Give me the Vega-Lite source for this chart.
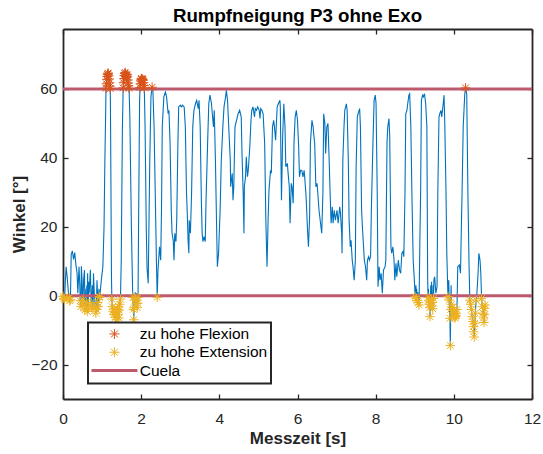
{
  "$schema": "https://vega.github.io/schema/vega-lite/v6.json",
  "width": 469,
  "height": 370,
  "autosize": {"type": "none"},
  "padding": {"left": 63, "top": 29, "right": 11, "bottom": 55},
  "title": {"text": "Rumpfneigung P3 ohne Exo", "font": "Liberation Sans", "fontSize": 18.7, "fontWeight": "bold", "color": "#000000", "anchor": "middle", "baseline": "alphabetic", "offset": -12.7},
  "config": {
    "view": {"stroke": null},
    "font": "Liberation Sans",
    "axis": {"domainColor": "#262626", "tickColor": "#262626", "labelColor": "#262626", "titleColor": "#262626", "domainWidth": 1.8, "tickWidth": 1.3, "grid": false, "labelFont": "Liberation Sans", "titleFont": "Liberation Sans", "labelFontSize": 15.5, "titleFontSize": 17, "titleFontWeight": "bold"},
    "legend": {"strokeWidth": 2}
  },
  "datasets": {
    "signal": [
      {"t":0.00,"v":-0.2},{"t":0.02,"v":-0.8},{"t":0.04,"v":-1.2},{"t":0.06,"v":4},{"t":0.08,"v":8.4},{"t":0.11,"v":5},{"t":0.14,"v":0.7},{"t":0.16,"v":-0.5},{"t":0.17,"v":-1.5},{"t":0.19,"v":-1.2},
      {"t":0.21,"v":12},{"t":0.24,"v":13},{"t":0.27,"v":10.5},{"t":0.30,"v":12.5},{"t":0.33,"v":9},{"t":0.36,"v":6.5},{"t":0.38,"v":0.7},{"t":0.41,"v":8.4},{"t":0.43,"v":3},{"t":0.44,"v":-1.5},
      {"t":0.46,"v":-3.2},{"t":0.47,"v":8.5},{"t":0.49,"v":4},{"t":0.50,"v":-2.5},{"t":0.51,"v":-1.3},{"t":0.53,"v":5},{"t":0.55,"v":7.4},{"t":0.56,"v":-4.2},{"t":0.57,"v":2},{"t":0.58,"v":-3},
      {"t":0.60,"v":-2},{"t":0.61,"v":3},{"t":0.62,"v":-4.6},{"t":0.63,"v":6.5},{"t":0.64,"v":-3.7},{"t":0.66,"v":4},{"t":0.67,"v":0.7},{"t":0.70,"v":7.5},{"t":0.72,"v":-2},{"t":0.73,"v":-3.2},
      {"t":0.75,"v":3},{"t":0.77,"v":-3.2},{"t":0.78,"v":6.5},{"t":0.80,"v":0.7},{"t":0.83,"v":-3.8},{"t":0.84,"v":-5.1},{"t":0.85,"v":-4},{"t":0.87,"v":4.5},{"t":0.89,"v":-2},{"t":0.90,"v":-3.2},
      {"t":0.92,"v":2},{"t":0.93,"v":-0.5},{"t":0.94,"v":-0.3},{"t":0.96,"v":2},{"t":0.98,"v":4.5},{"t":1.02,"v":8.4},{"t":1.05,"v":20},{"t":1.07,"v":38},{"t":1.09,"v":52},{"t":1.10,"v":60.2},
      {"t":1.12,"v":62.8},{"t":1.15,"v":64.6},{"t":1.17,"v":63.8},{"t":1.19,"v":61.8},{"t":1.21,"v":60.1},{"t":1.22,"v":45},{"t":1.24,"v":5.5},{"t":1.25,"v":-1},{"t":1.26,"v":-3.2},{"t":1.28,"v":-4.5},
      {"t":1.30,"v":-5.5},{"t":1.31,"v":-3.8},{"t":1.33,"v":-4.9},{"t":1.34,"v":-6.3},{"t":1.35,"v":-5},{"t":1.37,"v":-7},{"t":1.38,"v":-4.5},{"t":1.40,"v":-4},{"t":1.41,"v":-5.5},{"t":1.42,"v":-3.2},
      {"t":1.43,"v":-6.5},{"t":1.44,"v":-4.2},{"t":1.45,"v":-2.5},{"t":1.47,"v":-1},{"t":1.49,"v":10},{"t":1.52,"v":49},{"t":1.54,"v":60.3},{"t":1.56,"v":63},{"t":1.59,"v":64.8},{"t":1.61,"v":63.6},
      {"t":1.62,"v":63.2},{"t":1.64,"v":64.2},{"t":1.66,"v":62.6},{"t":1.68,"v":60.9},{"t":1.69,"v":60.2},{"t":1.71,"v":52},{"t":1.75,"v":20},{"t":1.78,"v":2},{"t":1.79,"v":-0.5},{"t":1.80,"v":-4},
      {"t":1.81,"v":-7},{"t":1.82,"v":-3.5},{"t":1.84,"v":-1.3},{"t":1.85,"v":1},{"t":1.86,"v":-0.8},{"t":1.88,"v":0.7},{"t":1.89,"v":-2.2},{"t":1.90,"v":-3.5},{"t":1.91,"v":-2.2},{"t":1.92,"v":-0.5},
      {"t":1.94,"v":29.7},{"t":1.96,"v":56.7},{"t":1.97,"v":60.4},{"t":1.99,"v":62.3},{"t":2.01,"v":63},{"t":2.03,"v":62.6},{"t":2.04,"v":62.8},{"t":2.06,"v":61.8},{"t":2.08,"v":60.3},{"t":2.10,"v":49},
      {"t":2.13,"v":20},{"t":2.15,"v":8},{"t":2.18,"v":3.6},{"t":2.22,"v":39},{"t":2.25,"v":57.7},{"t":2.28,"v":60.5},{"t":2.30,"v":59.6},{"t":2.33,"v":49},{"t":2.36,"v":29.7},{"t":2.39,"v":10.3},
      {"t":2.41,"v":-0.5},{"t":2.43,"v":7.4},{"t":2.47,"v":14.2},{"t":2.50,"v":10.3},{"t":2.52,"v":24.8},{"t":2.54,"v":49},{"t":2.58,"v":57.7},{"t":2.62,"v":59.1},{"t":2.65,"v":57.7},{"t":2.69,"v":52.8},
      {"t":2.71,"v":53.8},{"t":2.74,"v":44.2},{"t":2.77,"v":24.8},{"t":2.79,"v":18.1},{"t":2.82,"v":16.1},{"t":2.84,"v":10.3},{"t":2.86,"v":18.1},{"t":2.89,"v":15.7},{"t":2.91,"v":21.9},{"t":2.94,"v":44.2},
      {"t":2.96,"v":54.8},{"t":3.00,"v":55.3},{"t":3.03,"v":54.8},{"t":3.06,"v":55.3},{"t":3.10,"v":54.8},{"t":3.13,"v":49},{"t":3.16,"v":29.7},{"t":3.18,"v":23.9},{"t":3.20,"v":16.1},{"t":3.22,"v":12.3},
      {"t":3.23,"v":21.9},{"t":3.26,"v":18.1},{"t":3.29,"v":29.7},{"t":3.32,"v":49},{"t":3.35,"v":53.8},{"t":3.39,"v":55.7},{"t":3.42,"v":56.7},{"t":3.46,"v":54.3},{"t":3.48,"v":56.7},{"t":3.51,"v":49},
      {"t":3.54,"v":27.7},{"t":3.56,"v":18.1},{"t":3.58,"v":15.7},{"t":3.61,"v":17.1},{"t":3.64,"v":15.7},{"t":3.66,"v":27.7},{"t":3.70,"v":44.2},{"t":3.73,"v":55.7},{"t":3.76,"v":58.2},{"t":3.80,"v":55.7},
      {"t":3.82,"v":52.8},{"t":3.85,"v":49},{"t":3.87,"v":53.8},{"t":3.90,"v":39.3},{"t":3.93,"v":20},{"t":3.95,"v":8.4},{"t":3.98,"v":12.3},{"t":4.02,"v":24.8},{"t":4.05,"v":39.3},{"t":4.09,"v":49},
      {"t":4.12,"v":54.8},{"t":4.16,"v":57.7},{"t":4.18,"v":59.6},{"t":4.21,"v":56.7},{"t":4.24,"v":49},{"t":4.28,"v":39.3},{"t":4.29,"v":31.6},{"t":4.33,"v":35.5},{"t":4.35,"v":27.7},{"t":4.37,"v":31.6},
      {"t":4.40,"v":49},{"t":4.44,"v":50.9},{"t":4.48,"v":52.8},{"t":4.52,"v":53.8},{"t":4.56,"v":51.9},{"t":4.58,"v":41.3},{"t":4.61,"v":29.7},{"t":4.63,"v":18.1},{"t":4.64,"v":31.6},{"t":4.67,"v":34.5},
      {"t":4.69,"v":40.3},{"t":4.72,"v":34.5},{"t":4.74,"v":36.4},{"t":4.78,"v":43.2},{"t":4.81,"v":50.9},{"t":4.83,"v":53.8},{"t":4.86,"v":54.8},{"t":4.90,"v":51.9},{"t":4.92,"v":54.3},{"t":4.95,"v":53.8},
      {"t":4.98,"v":54.8},{"t":5.02,"v":53.8},{"t":5.04,"v":51.4},{"t":5.06,"v":54.3},{"t":5.09,"v":53.8},{"t":5.12,"v":52.8},{"t":5.16,"v":44.2},{"t":5.19,"v":21.9},{"t":5.22,"v":8.4},{"t":5.25,"v":22.9},
      {"t":5.27,"v":30.6},{"t":5.31,"v":36.4},{"t":5.33,"v":35.5},{"t":5.36,"v":49},{"t":5.39,"v":50.9},{"t":5.41,"v":49},{"t":5.44,"v":45.1},{"t":5.48,"v":54.8},{"t":5.51,"v":55.7},{"t":5.55,"v":56.7},
      {"t":5.56,"v":54.8},{"t":5.59,"v":27.7},{"t":5.62,"v":46.1},{"t":5.65,"v":55.7},{"t":5.68,"v":49},{"t":5.70,"v":37.4},{"t":5.74,"v":38.4},{"t":5.76,"v":35.5},{"t":5.79,"v":31.6},{"t":5.81,"v":21},
      {"t":5.84,"v":32.6},{"t":5.86,"v":31.6},{"t":5.89,"v":26.8},{"t":5.91,"v":44.2},{"t":5.94,"v":51.9},{"t":5.97,"v":53.8},{"t":6.00,"v":50.9},{"t":6.03,"v":43.2},{"t":6.05,"v":34.5},{"t":6.08,"v":36.4},
      {"t":6.11,"v":36.4},{"t":6.14,"v":34.5},{"t":6.17,"v":36.4},{"t":6.19,"v":33.5},{"t":6.22,"v":28.7},{"t":6.26,"v":18.1},{"t":6.28,"v":14.2},{"t":6.31,"v":22.9},{"t":6.33,"v":44.2},{"t":6.37,"v":50.9},
      {"t":6.40,"v":49},{"t":6.43,"v":45.1},{"t":6.44,"v":44.2},{"t":6.47,"v":31.6},{"t":6.50,"v":32.6},{"t":6.52,"v":29.7},{"t":6.55,"v":24.8},{"t":6.57,"v":22.9},{"t":6.60,"v":20},{"t":6.62,"v":18.1},
      {"t":6.65,"v":29.7},{"t":6.67,"v":52.8},{"t":6.70,"v":50},{"t":6.72,"v":41.3},{"t":6.75,"v":49},{"t":6.78,"v":50},{"t":6.81,"v":39.3},{"t":6.84,"v":27.7},{"t":6.86,"v":21},{"t":6.89,"v":25.8},
      {"t":6.91,"v":21},{"t":6.94,"v":24.8},{"t":6.97,"v":21.9},{"t":7.01,"v":24.8},{"t":7.04,"v":21},{"t":7.08,"v":25.8},{"t":7.10,"v":23.9},{"t":7.13,"v":18.1},{"t":7.14,"v":12.3},{"t":7.16,"v":39.3},
      {"t":7.19,"v":49},{"t":7.21,"v":53.8},{"t":7.25,"v":55.7},{"t":7.27,"v":53.8},{"t":7.30,"v":39.3},{"t":7.32,"v":21.9},{"t":7.35,"v":14.2},{"t":7.37,"v":16.1},{"t":7.40,"v":10.3},{"t":7.42,"v":8.4},
      {"t":7.45,"v":4.5},{"t":7.48,"v":10.3},{"t":7.50,"v":37.4},{"t":7.53,"v":51.9},{"t":7.55,"v":52.8},{"t":7.59,"v":54.3},{"t":7.61,"v":49},{"t":7.64,"v":24.8},{"t":7.66,"v":20},{"t":7.69,"v":14.2},
      {"t":7.71,"v":10.3},{"t":7.74,"v":8.4},{"t":7.77,"v":4.5},{"t":7.79,"v":10.3},{"t":7.82,"v":11.3},{"t":7.84,"v":10.3},{"t":7.87,"v":11.3},{"t":7.89,"v":24.8},{"t":7.93,"v":44.2},{"t":7.96,"v":56.7},
      {"t":7.99,"v":58.2},{"t":8.01,"v":55.7},{"t":8.04,"v":29.7},{"t":8.06,"v":2.6},{"t":8.09,"v":8.4},{"t":8.11,"v":4.5},{"t":8.14,"v":6.5},{"t":8.17,"v":0.7},{"t":8.20,"v":7.4},{"t":8.24,"v":8.4},
      {"t":8.26,"v":10.3},{"t":8.29,"v":44.2},{"t":8.31,"v":49},{"t":8.34,"v":51.4},{"t":8.36,"v":46.1},{"t":8.39,"v":14.2},{"t":8.41,"v":12.3},{"t":8.44,"v":14.2},{"t":8.47,"v":10.3},{"t":8.49,"v":4.5},
      {"t":8.52,"v":9.4},{"t":8.54,"v":5.5},{"t":8.58,"v":10.3},{"t":8.61,"v":7.4},{"t":8.64,"v":6.5},{"t":8.67,"v":12.3},{"t":8.70,"v":12.8},{"t":8.72,"v":11.3},{"t":8.75,"v":29.7},{"t":8.77,"v":52.8},
      {"t":8.80,"v":53.8},{"t":8.82,"v":55.7},{"t":8.85,"v":58.2},{"t":8.87,"v":58.6},{"t":8.90,"v":49},{"t":8.93,"v":27.7},{"t":8.96,"v":10.3},{"t":8.99,"v":4.5},{"t":9.01,"v":-0.3},{"t":9.03,"v":3},
      {"t":9.04,"v":-0.8},{"t":9.05,"v":2},{"t":9.06,"v":-1.4},{"t":9.08,"v":1},{"t":9.09,"v":-2},{"t":9.11,"v":-2.7},{"t":9.13,"v":15},{"t":9.15,"v":29.7},{"t":9.17,"v":56.7},{"t":9.20,"v":58.2},
      {"t":9.22,"v":57.7},{"t":9.25,"v":58.6},{"t":9.28,"v":55.7},{"t":9.31,"v":49},{"t":9.33,"v":5.5},{"t":9.34,"v":-0.5},{"t":9.35,"v":2},{"t":9.36,"v":-1.5},{"t":9.37,"v":-2.5},{"t":9.38,"v":-3.5},
      {"t":9.39,"v":-6.1},{"t":9.40,"v":-2},{"t":9.41,"v":3},{"t":9.42,"v":-1},{"t":9.43,"v":4},{"t":9.44,"v":-3},{"t":9.45,"v":-2},{"t":9.46,"v":-3.8},{"t":9.47,"v":3},{"t":9.48,"v":-0.8},
      {"t":9.49,"v":4.5},{"t":9.51,"v":5.5},{"t":9.54,"v":0.7},{"t":9.57,"v":2.6},{"t":9.59,"v":29.7},{"t":9.62,"v":51.9},{"t":9.64,"v":52.8},{"t":9.67,"v":53.8},{"t":9.69,"v":51.9},{"t":9.72,"v":54.8},
      {"t":9.75,"v":58.2},{"t":9.77,"v":49},{"t":9.80,"v":29.7},{"t":9.82,"v":12.3},{"t":9.85,"v":-0.3},{"t":9.87,"v":4.5},{"t":9.88,"v":-1.3},{"t":9.90,"v":-6.6},{"t":9.91,"v":-14.5},{"t":9.92,"v":-4},
      {"t":9.93,"v":3},{"t":9.94,"v":-2.5},{"t":9.96,"v":-3.5},{"t":9.98,"v":-4.2},{"t":10.00,"v":-5},{"t":10.01,"v":-6.2},{"t":10.02,"v":-5.6},{"t":10.03,"v":-6.5},{"t":10.04,"v":-6},{"t":10.05,"v":-5.2},
      {"t":10.06,"v":-5.8},{"t":10.08,"v":-4},{"t":10.10,"v":8.4},{"t":10.14,"v":8.9},{"t":10.17,"v":6.5},{"t":10.21,"v":29.7},{"t":10.24,"v":49},{"t":10.28,"v":58.6},{"t":10.30,"v":60.3},{"t":10.33,"v":58.6},
      {"t":10.36,"v":29.7},{"t":10.39,"v":8.4},{"t":10.41,"v":-1.3},{"t":10.43,"v":-2.5},{"t":10.45,"v":-4},{"t":10.47,"v":-6.1},{"t":10.49,"v":-7.5},{"t":10.50,"v":-9},{"t":10.51,"v":-10.5},{"t":10.52,"v":-12},
      {"t":10.54,"v":-8},{"t":10.55,"v":-5.1},{"t":10.57,"v":-1.3},{"t":10.59,"v":0.7},{"t":10.62,"v":6.5},{"t":10.64,"v":12.3},{"t":10.67,"v":10.3},{"t":10.69,"v":6.5},{"t":10.71,"v":-0.8},{"t":10.73,"v":-3.2},
      {"t":10.75,"v":-5.1},{"t":10.76,"v":-6.5},{"t":10.77,"v":-7.8},{"t":10.78,"v":-5.5},{"t":10.79,"v":-3.7},{"t":10.80,"v":-2.7}
    ],
    "markers": [
      {"t":1.10,"v":60.2,"type":"zu hohe Flexion"},{"t":1.11,"v":61.5,"type":"zu hohe Flexion"},{"t":1.12,"v":62.8,"type":"zu hohe Flexion"},{"t":1.13,"v":63.6,"type":"zu hohe Flexion"},{"t":1.14,"v":64.2,"type":"zu hohe Flexion"},{"t":1.15,"v":64.6,"type":"zu hohe Flexion"},{"t":1.16,"v":64.4,"type":"zu hohe Flexion"},{"t":1.17,"v":63.8,"type":"zu hohe Flexion"},{"t":1.18,"v":62.9,"type":"zu hohe Flexion"},{"t":1.19,"v":61.8,"type":"zu hohe Flexion"},{"t":1.20,"v":60.8,"type":"zu hohe Flexion"},{"t":1.21,"v":60.1,"type":"zu hohe Flexion"},
      {"t":1.54,"v":60.3,"type":"zu hohe Flexion"},{"t":1.55,"v":61.8,"type":"zu hohe Flexion"},{"t":1.56,"v":63,"type":"zu hohe Flexion"},{"t":1.57,"v":63.9,"type":"zu hohe Flexion"},{"t":1.58,"v":64.5,"type":"zu hohe Flexion"},{"t":1.59,"v":64.8,"type":"zu hohe Flexion"},{"t":1.60,"v":64.3,"type":"zu hohe Flexion"},{"t":1.61,"v":63.6,"type":"zu hohe Flexion"},{"t":1.62,"v":63.2,"type":"zu hohe Flexion"},{"t":1.63,"v":63.8,"type":"zu hohe Flexion"},{"t":1.64,"v":64.2,"type":"zu hohe Flexion"},{"t":1.65,"v":63.5,"type":"zu hohe Flexion"},{"t":1.66,"v":62.6,"type":"zu hohe Flexion"},{"t":1.67,"v":61.7,"type":"zu hohe Flexion"},{"t":1.68,"v":60.9,"type":"zu hohe Flexion"},{"t":1.69,"v":60.2,"type":"zu hohe Flexion"},
      {"t":1.97,"v":60.4,"type":"zu hohe Flexion"},{"t":1.98,"v":61.5,"type":"zu hohe Flexion"},{"t":1.99,"v":62.3,"type":"zu hohe Flexion"},{"t":2.00,"v":62.8,"type":"zu hohe Flexion"},{"t":2.01,"v":63,"type":"zu hohe Flexion"},{"t":2.02,"v":62.9,"type":"zu hohe Flexion"},{"t":2.03,"v":62.6,"type":"zu hohe Flexion"},{"t":2.04,"v":62.8,"type":"zu hohe Flexion"},{"t":2.05,"v":62.5,"type":"zu hohe Flexion"},{"t":2.06,"v":61.8,"type":"zu hohe Flexion"},{"t":2.07,"v":61,"type":"zu hohe Flexion"},{"t":2.08,"v":60.3,"type":"zu hohe Flexion"},
      {"t":2.28,"v":60.5,"type":"zu hohe Flexion"},{"t":10.30,"v":60.3,"type":"zu hohe Flexion"},
      {"t":0.00,"v":-0.2,"type":"zu hohe Extension"},{"t":0.02,"v":-0.8,"type":"zu hohe Extension"},{"t":0.04,"v":-1.2,"type":"zu hohe Extension"},{"t":0.16,"v":-0.5,"type":"zu hohe Extension"},{"t":0.17,"v":-1.5,"type":"zu hohe Extension"},{"t":0.19,"v":-1.2,"type":"zu hohe Extension"},
      {"t":0.44,"v":-1.5,"type":"zu hohe Extension"},{"t":0.46,"v":-3.2,"type":"zu hohe Extension"},{"t":0.50,"v":-2.5,"type":"zu hohe Extension"},{"t":0.51,"v":-1.3,"type":"zu hohe Extension"},{"t":0.56,"v":-4.2,"type":"zu hohe Extension"},{"t":0.58,"v":-3,"type":"zu hohe Extension"},{"t":0.60,"v":-2,"type":"zu hohe Extension"},{"t":0.62,"v":-4.6,"type":"zu hohe Extension"},{"t":0.64,"v":-3.7,"type":"zu hohe Extension"},{"t":0.72,"v":-2,"type":"zu hohe Extension"},{"t":0.73,"v":-3.2,"type":"zu hohe Extension"},{"t":0.77,"v":-3.2,"type":"zu hohe Extension"},{"t":0.83,"v":-3.8,"type":"zu hohe Extension"},{"t":0.84,"v":-5.1,"type":"zu hohe Extension"},{"t":0.85,"v":-4,"type":"zu hohe Extension"},{"t":0.89,"v":-2,"type":"zu hohe Extension"},{"t":0.90,"v":-3.2,"type":"zu hohe Extension"},{"t":0.93,"v":-0.5,"type":"zu hohe Extension"},{"t":0.94,"v":-0.3,"type":"zu hohe Extension"},
      {"t":1.25,"v":-1,"type":"zu hohe Extension"},{"t":1.26,"v":-3.2,"type":"zu hohe Extension"},{"t":1.28,"v":-4.5,"type":"zu hohe Extension"},{"t":1.30,"v":-5.5,"type":"zu hohe Extension"},{"t":1.31,"v":-3.8,"type":"zu hohe Extension"},{"t":1.33,"v":-4.9,"type":"zu hohe Extension"},{"t":1.34,"v":-6.3,"type":"zu hohe Extension"},{"t":1.35,"v":-5,"type":"zu hohe Extension"},{"t":1.37,"v":-7,"type":"zu hohe Extension"},{"t":1.38,"v":-4.5,"type":"zu hohe Extension"},{"t":1.40,"v":-4,"type":"zu hohe Extension"},{"t":1.41,"v":-5.5,"type":"zu hohe Extension"},{"t":1.42,"v":-3.2,"type":"zu hohe Extension"},{"t":1.43,"v":-6.5,"type":"zu hohe Extension"},{"t":1.44,"v":-4.2,"type":"zu hohe Extension"},{"t":1.45,"v":-2.5,"type":"zu hohe Extension"},{"t":1.47,"v":-1,"type":"zu hohe Extension"},
      {"t":1.79,"v":-0.5,"type":"zu hohe Extension"},{"t":1.80,"v":-4,"type":"zu hohe Extension"},{"t":1.81,"v":-7,"type":"zu hohe Extension"},{"t":1.82,"v":-3.5,"type":"zu hohe Extension"},{"t":1.84,"v":-1.3,"type":"zu hohe Extension"},{"t":1.86,"v":-0.8,"type":"zu hohe Extension"},{"t":1.89,"v":-2.2,"type":"zu hohe Extension"},{"t":1.90,"v":-3.5,"type":"zu hohe Extension"},{"t":1.91,"v":-2.2,"type":"zu hohe Extension"},{"t":1.92,"v":-0.5,"type":"zu hohe Extension"},
      {"t":2.41,"v":-0.5,"type":"zu hohe Extension"},
      {"t":9.01,"v":-0.3,"type":"zu hohe Extension"},{"t":9.04,"v":-0.8,"type":"zu hohe Extension"},{"t":9.06,"v":-1.4,"type":"zu hohe Extension"},{"t":9.09,"v":-2,"type":"zu hohe Extension"},{"t":9.11,"v":-2.7,"type":"zu hohe Extension"},
      {"t":9.34,"v":-0.5,"type":"zu hohe Extension"},{"t":9.36,"v":-1.5,"type":"zu hohe Extension"},{"t":9.37,"v":-2.5,"type":"zu hohe Extension"},{"t":9.38,"v":-3.5,"type":"zu hohe Extension"},{"t":9.39,"v":-6.1,"type":"zu hohe Extension"},{"t":9.40,"v":-2,"type":"zu hohe Extension"},{"t":9.42,"v":-1,"type":"zu hohe Extension"},{"t":9.44,"v":-3,"type":"zu hohe Extension"},{"t":9.45,"v":-2,"type":"zu hohe Extension"},{"t":9.46,"v":-3.8,"type":"zu hohe Extension"},{"t":9.48,"v":-0.8,"type":"zu hohe Extension"},
      {"t":9.85,"v":-0.3,"type":"zu hohe Extension"},{"t":9.88,"v":-1.3,"type":"zu hohe Extension"},{"t":9.90,"v":-6.6,"type":"zu hohe Extension"},{"t":9.91,"v":-14.5,"type":"zu hohe Extension"},{"t":9.92,"v":-4,"type":"zu hohe Extension"},{"t":9.94,"v":-2.5,"type":"zu hohe Extension"},{"t":9.96,"v":-3.5,"type":"zu hohe Extension"},{"t":9.98,"v":-4.2,"type":"zu hohe Extension"},{"t":10.00,"v":-5,"type":"zu hohe Extension"},{"t":10.01,"v":-6.2,"type":"zu hohe Extension"},{"t":10.02,"v":-5.6,"type":"zu hohe Extension"},{"t":10.03,"v":-6.5,"type":"zu hohe Extension"},{"t":10.04,"v":-6,"type":"zu hohe Extension"},{"t":10.05,"v":-5.2,"type":"zu hohe Extension"},{"t":10.06,"v":-5.8,"type":"zu hohe Extension"},{"t":10.08,"v":-4,"type":"zu hohe Extension"},
      {"t":10.41,"v":-1.3,"type":"zu hohe Extension"},{"t":10.43,"v":-2.5,"type":"zu hohe Extension"},{"t":10.45,"v":-4,"type":"zu hohe Extension"},{"t":10.47,"v":-6.1,"type":"zu hohe Extension"},{"t":10.49,"v":-7.5,"type":"zu hohe Extension"},{"t":10.50,"v":-9,"type":"zu hohe Extension"},{"t":10.51,"v":-10.5,"type":"zu hohe Extension"},{"t":10.52,"v":-12,"type":"zu hohe Extension"},{"t":10.54,"v":-8,"type":"zu hohe Extension"},{"t":10.55,"v":-5.1,"type":"zu hohe Extension"},{"t":10.57,"v":-1.3,"type":"zu hohe Extension"},
      {"t":10.71,"v":-0.8,"type":"zu hohe Extension"},{"t":10.73,"v":-3.2,"type":"zu hohe Extension"},{"t":10.75,"v":-5.1,"type":"zu hohe Extension"},{"t":10.76,"v":-6.5,"type":"zu hohe Extension"},{"t":10.77,"v":-7.8,"type":"zu hohe Extension"},{"t":10.78,"v":-5.5,"type":"zu hohe Extension"},{"t":10.79,"v":-3.7,"type":"zu hohe Extension"},{"t":10.80,"v":-2.7,"type":"zu hohe Extension"}
    ],
    "cuela": [
      {"v": 60, "type": "Cuela"},
      {"v": 0, "type": "Cuela"}
    ]
  },
  "layer": [
    {
      "data": {"name": "signal"},
      "mark": {"type": "line", "color": "#0072BD", "strokeWidth": 1.1, "clip": true},
      "encoding": {
        "x": {"field": "t", "type": "quantitative", "scale": {"domain": [0, 12], "nice": false, "zero": false},
          "axis": {"orient": "bottom", "values": [0, 2, 4, 6, 8, 10, 12], "title": "Messzeit [s]", "tickSize": -5, "labelPadding": 17, "titlePadding": 4, "labelFlush": false, "labelOverlap": false}},
        "y": {"field": "v", "type": "quantitative", "scale": {"domain": [-30, 77.4], "nice": false, "zero": false},
          "axis": {"orient": "left", "values": [-20, 0, 20, 40, 60], "title": "Winkel [°]", "tickSize": -5, "labelPadding": 11, "titlePadding": 2.5, "labelFlush": false, "labelOverlap": false}}
      }
    },
    {
      "data": {"name": "cuela"},
      "mark": {"type": "rule", "strokeWidth": 3},
      "encoding": {
        "y": {"field": "v", "type": "quantitative", "axis": null},
        "color": {"field": "type", "type": "nominal",
          "scale": {"domain": ["zu hohe Flexion", "zu hohe Extension", "Cuela"], "range": ["#D95319", "#EDB120", "#BE5A6D"]},
          "legend": {"orient": "none", "legendX": 25, "legendY": 293.5, "title": null, "labelFont": "Liberation Sans", "labelFontSize": 15.5, "labelColor": "#000000", "strokeColor": "#262626", "fillColor": "#ffffff", "padding": 3.7, "rowPadding": 1.3, "symbolOffset": 15, "labelOffset": 17.5, "labelLimit": 300}}
      }
    },
    {
      "data": {"name": "markers"},
      "mark": {"type": "point", "filled": false, "opacity": 1, "size": 90},
      "encoding": {
        "x": {"field": "t", "type": "quantitative", "axis": {"orient": "top", "values": [0, 2, 4, 6, 8, 10, 12], "labels": false, "title": null, "tickSize": -5}},
        "y": {"field": "v", "type": "quantitative", "axis": {"orient": "right", "values": [-20, 0, 20, 40, 60], "labels": false, "title": null, "tickSize": -5}},
        "color": {"field": "type", "type": "nominal",
          "scale": {"domain": ["zu hohe Flexion", "zu hohe Extension", "Cuela"], "range": ["#D95319", "#EDB120", "#BE5A6D"]},
          "legend": {"orient": "none", "legendX": 25, "legendY": 293.5, "title": null, "labelFont": "Liberation Sans", "labelFontSize": 15.5, "labelColor": "#000000", "strokeColor": "#262626", "fillColor": "#ffffff", "padding": 3.7, "rowPadding": 1.3, "symbolOffset": 15, "labelOffset": 17.5, "labelLimit": 300}},
        "shape": {"field": "type", "type": "nominal",
          "scale": {"domain": ["zu hohe Flexion", "zu hohe Extension", "Cuela"], "range": ["M-1,0L1,0M0,-1L0,1M-0.7,-0.7L0.7,0.7M-0.7,0.7L0.7,-0.7", "M-1,0L1,0M0,-1L0,1M-0.7,-0.7L0.7,0.7M-0.7,0.7L0.7,-0.7", "M-4.6,0L4.6,0"]},
          "legend": {"orient": "none", "legendX": 25, "legendY": 293.5, "title": null, "symbolOffset": 15, "labelOffset": 17.5, "rowPadding": 1.3}},
        "strokeWidth": {"field": "type", "type": "nominal",
          "scale": {"type": "ordinal", "domain": ["zu hohe Flexion", "zu hohe Extension", "Cuela"], "range": [1, 1, 3]},
          "legend": {"orient": "none", "legendX": 25, "legendY": 293.5, "title": null, "symbolOffset": 15, "labelOffset": 17.5, "rowPadding": 1.3}}
      }
    }
  ],
  "resolve": {"axis": {"x": "independent", "y": "independent"}}
}
